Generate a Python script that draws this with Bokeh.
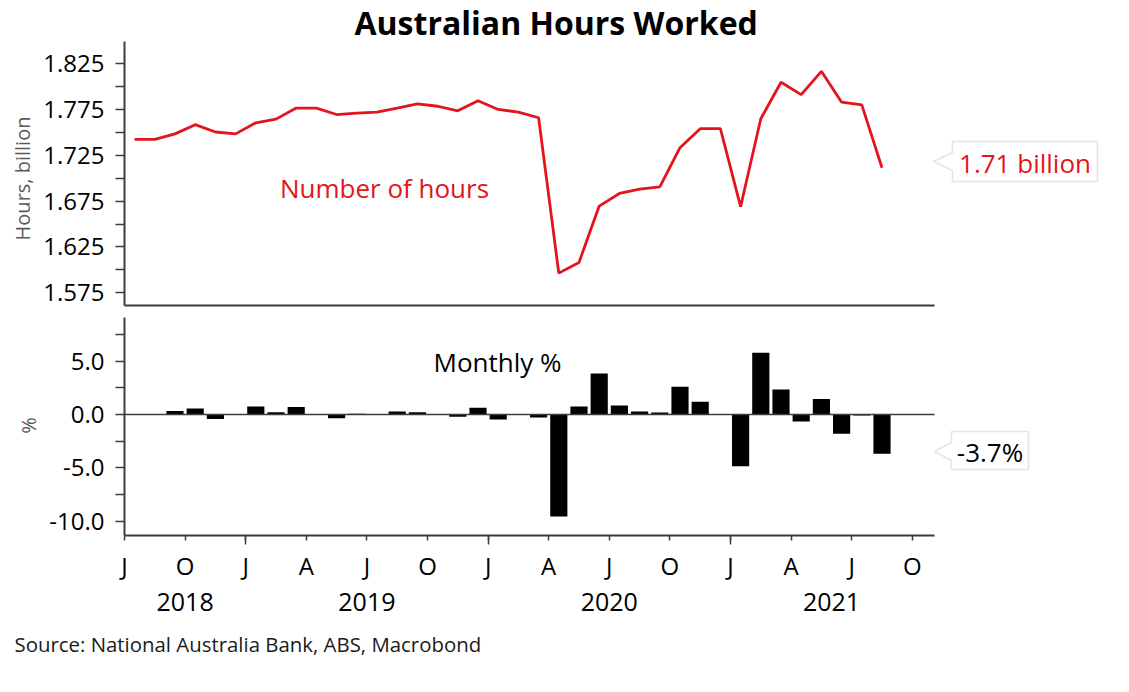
import numpy as np
from bokeh.plotting import figure
from bokeh.models import (FixedTicker, Label, PolyAnnotation, Range1d, PrintfTickFormatter,
                          LinearAxis, Title)
from bokeh.layouts import column
from bokeh.embed import file_html
from bokeh.resources import INLINE

# ---------------- data ----------------
months = ["2018-07", "2018-08", "2018-09", "2018-10", "2018-11", "2018-12",
          "2019-01", "2019-02", "2019-03", "2019-04", "2019-05", "2019-06",
          "2019-07", "2019-08", "2019-09", "2019-10", "2019-11", "2019-12",
          "2020-01", "2020-02", "2020-03", "2020-04", "2020-05", "2020-06",
          "2020-07", "2020-08", "2020-09", "2020-10", "2020-11", "2020-12",
          "2021-01", "2021-02", "2021-03", "2021-04", "2021-05", "2021-06",
          "2021-07", "2021-08"]

hours_bn = [1.742, 1.742, 1.748, 1.758, 1.750, 1.748,
            1.760, 1.764, 1.776, 1.776, 1.769, 1.7705,
            1.7716, 1.776, 1.7806, 1.778, 1.773, 1.784,
            1.7745, 1.7716, 1.7655, 1.5966, 1.6082, 1.6695,
            1.6832, 1.6879, 1.6904, 1.733, 1.7536, 1.7536,
            1.6688, 1.7644, 1.8041, 1.7907, 1.816, 1.7824,
            1.7795, 1.7111]

monthly_pct = [0.0, 0.0, 0.32, 0.57, -0.41, -0.05,
               0.76, 0.22, 0.70, 0.02, -0.35, 0.08,
               0.05, 0.28, 0.22, -0.05, -0.22, 0.63,
               -0.47, -0.05, -0.28, -9.55, 0.76, 3.83,
               0.85, 0.28, 0.19, 2.60, 1.20, 0.02,
               -4.84, 5.79, 2.34, -0.66, 1.46, -1.80,
               -0.10, -3.67]

quarter_ticks = [0, 3, 6, 9, 12, 15, 18, 21, 24, 27, 30, 33, 36, 39]
quarter_labels = ["J", "O", "J", "A", "J", "O", "J", "A", "J", "O", "J", "A", "J", "O"]
jan_ticks = [6, 18, 30]
year_labels = ["2018", "2019", "2020", "2021"]
year_centres = [3, 12, 24, 35]
axis_span = (0, 40)

top_major = [1.575, 1.625, 1.675, 1.725, 1.775, 1.825]
top_minor = [1.60, 1.65, 1.70, 1.75, 1.80]
bot_major = [-10.0, -5.0, 0.0, 5.0]
bot_minor = [-7.5, -2.5, 2.5, 7.5]

# ---------------- style / geometry ----------------
FONT = "Open Sans"
RED = "#e3141b"
AXIS = "#3c3c3c"
BOXLINE = "#a8a8a8"

ORG = 1                   # page position of the figures' origin
PAGE_LEFT = 125           # page x of frame left edge
PAGE_RIGHT = 1128
LEFT = PAGE_LEFT - ORG
FW = PAGE_RIGHT - PAGE_LEFT
PPM = 20.2                # pixels per month

# top panel: value axis 1.5614 (page 306) .. 1.8484 (page 42)
TOP_AX0, TOP_AX1 = 1.5614, 1.8484
TOP_PB, TOP_PT = 306, 42
TOP_PXU = (TOP_PB - TOP_PT) / (TOP_AX1 - TOP_AX0)
TOP_FRAME_TOP = TOP_PT
TOP_FRAME_BOTTOM = 316
TOP_FH = TOP_FRAME_BOTTOM - TOP_FRAME_TOP

# bottom panel: zero at page 415
BOT_ZERO = 415
BOT_PXU = 10.686
BOT_FRAME_TOP = TOP_FRAME_BOTTOM
BOT_PB = 536
BOT_AXIS_TOP = 318
BOT_FH = BOT_PB - BOT_FRAME_TOP


def tx(px):
    return (px - PAGE_LEFT) / PPM


def ty_top(py):
    return TOP_AX0 + (TOP_PB - py) / TOP_PXU


def ty_bot(py):
    return (BOT_ZERO - py) / BOT_PXU


x = np.arange(len(months)) + 0.5


def style_common(p):
    p.background_fill_color = "white"
    p.border_fill_color = "white"
    p.outline_line_color = None
    p.xgrid.visible = False
    p.ygrid.visible = False


def style_yaxis(ax):
    ax.axis_line_color = AXIS
    ax.axis_line_width = 2
    ax.major_tick_line_color = AXIS
    ax.minor_tick_line_color = AXIS
    ax.major_tick_line_width = 1.5
    ax.minor_tick_line_width = 1.5
    ax.major_tick_in = 0
    ax.major_tick_out = 9
    ax.minor_tick_in = 0
    ax.minor_tick_out = 9
    ax.major_label_text_font = FONT
    ax.major_label_text_font_size = "24px"
    ax.major_label_text_color = "black"
    ax.major_label_standoff = 11
    ax.axis_label_text_font = FONT
    ax.axis_label_text_font_size = "20px"
    ax.axis_label_text_font_style = "normal"
    ax.axis_label_text_color = "#5a5a5a"
    ax.axis_label_standoff = 4


def callout(p, yconv, left, right, top, bottom, tip_x, tip_y, half, text, color, size):
    xs = [tx(left), tx(right), tx(right), tx(left), tx(left), tx(tip_x), tx(left)]
    ys = [yconv(top), yconv(top), yconv(bottom), yconv(bottom),
          yconv(tip_y + half), yconv(tip_y), yconv(tip_y - half)]
    p.add_layout(PolyAnnotation(xs=xs, ys=ys, fill_color="white", fill_alpha=1.0,
                                line_color=BOXLINE, line_width=1.6))
    p.add_layout(Label(x=tx((left + right) / 2), y=yconv((top + bottom) / 2 + 1),
                       text=text, text_align="center", text_baseline="middle",
                       text_font=FONT, text_font_size=size, text_color=color))


# ---------------- top panel ----------------
p1 = figure(frame_width=FW, frame_height=TOP_FH,
            min_border_left=LEFT, min_border_right=0,
            min_border_top=TOP_FRAME_TOP - ORG, min_border_bottom=0,
            x_range=Range1d(tx(PAGE_LEFT), tx(PAGE_RIGHT)),
            y_range=Range1d(ty_top(TOP_FRAME_BOTTOM), ty_top(TOP_FRAME_TOP)),
            x_axis_location=None,
            output_backend="svg", toolbar_location=None)
style_common(p1)
p1.title.text = "Australian Hours Worked"
p1.title.align = "left"
p1.title.offset = 355 - PAGE_LEFT
p1.title.standoff = -4
p1.title.text_font = FONT
p1.title.text_font_size = "32px"
p1.title.text_font_style = "bold"
p1.title.text_color = "black"

p1.line(x, hours_bn, line_color=RED, line_width=2.8)

ya = p1.yaxis[0]
ya.ticker = FixedTicker(ticks=top_major, minor_ticks=top_minor)
ya.formatter = PrintfTickFormatter(format="%.3f")
ya.bounds = (TOP_AX0, TOP_AX1)
ya.axis_label = "Hours, billion"
style_yaxis(ya)

# bottom rule of the upper panel
p1.segment(x0=[axis_span[0] - 0.03], x1=[axis_span[1] + 0.1],
           y0=[ty_top(TOP_PB)], y1=[ty_top(TOP_PB)],
           line_color=AXIS, line_width=2)

p1.add_layout(Label(x=tx(385), y=ty_top(188), text="Number of hours",
                    text_align="center", text_baseline="middle", text_font=FONT,
                    text_font_size="26px", text_color=RED))
callout(p1, ty_top, 953, 1098, 142, 182, 934, 162, 9, "1.71 billion", RED, "26px")

# ---------------- bottom panel ----------------
p2 = figure(frame_width=FW, frame_height=BOT_FH,
            min_border_left=LEFT, min_border_right=0,
            min_border_top=0, min_border_bottom=150,
            x_range=Range1d(tx(PAGE_LEFT), tx(PAGE_RIGHT)),
            y_range=Range1d(ty_bot(BOT_PB), ty_bot(BOT_FRAME_TOP)),
            output_backend="svg", toolbar_location=None)
style_common(p2)
p2.vbar(x=x, top=monthly_pct, bottom=0, width=0.85, fill_color="black", line_color=None)
p2.segment(x0=[axis_span[0]], x1=[axis_span[1] + 0.1], y0=[0], y1=[0],
           line_color=AXIS, line_width=1.6)

yb = p2.yaxis[0]
yb.ticker = FixedTicker(ticks=bot_major, minor_ticks=bot_minor)
yb.formatter = PrintfTickFormatter(format="%.1f")
yb.bounds = (ty_bot(BOT_PB), ty_bot(BOT_AXIS_TOP))
yb.axis_label = "%"
style_yaxis(yb)

xa = p2.xaxis[0]
xa.ticker = FixedTicker(ticks=quarter_ticks, minor_ticks=jan_ticks)
xa.major_label_overrides = {t: l for t, l in zip(quarter_ticks, quarter_labels)}
xa.bounds = (axis_span[0], axis_span[1] + 0.1)
xa.axis_line_color = AXIS
xa.axis_line_width = 2
xa.major_tick_line_color = AXIS
xa.minor_tick_line_color = AXIS
xa.major_tick_line_width = 1.5
xa.minor_tick_line_width = 1.5
xa.major_tick_in = 0
xa.major_tick_out = 5
xa.minor_tick_in = 0
xa.minor_tick_out = 9
xa.major_label_text_font = FONT
xa.major_label_text_font_size = "24px"
xa.major_label_text_color = "black"
xa.major_label_standoff = 4

year_axis = LinearAxis(ticker=FixedTicker(ticks=year_centres, minor_ticks=[]),
                       major_label_overrides={t: l for t, l in zip(year_centres, year_labels)},
                       axis_line_color=None, major_tick_line_color=None,
                       minor_tick_line_color=None, major_tick_in=0, major_tick_out=0,
                       minor_tick_in=0, minor_tick_out=0, major_label_standoff=8,
                       major_label_text_font=FONT, major_label_text_font_size="25px",
                       major_label_text_color="black")
p2.add_layout(year_axis, "below")

p2.add_layout(Title(text="Source: National Australia Bank, ABS, Macrobond", align="left",
                    offset=15 - PAGE_LEFT, standoff=28, text_font=FONT,
                    text_font_size="20.4px", text_font_style="normal",
                    text_color="#1a1a1a"), "below")

p2.add_layout(Label(x=tx(498), y=ty_bot(362), text="Monthly %",
                    text_align="center", text_baseline="middle", text_font=FONT,
                    text_font_size="26px", text_color="black"))
callout(p2, ty_bot, 952, 1029, 432, 470, 935, 452, 9, "-3.7%", "black", "26px")

layout = column(p1, p2, spacing=0)
open("out.html", "w").write(file_html(layout, INLINE))
